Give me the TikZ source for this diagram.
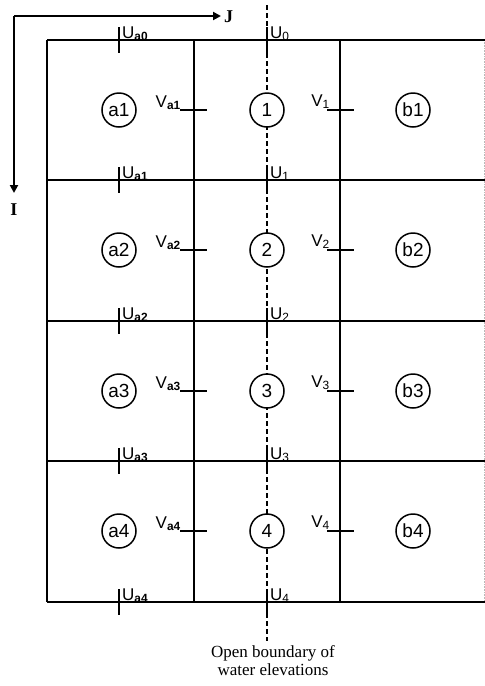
\documentclass[tikz,border=0pt]{standalone}
\usepackage{fontspec}
\setmainfont{Liberation Sans}
\newfontfamily\serifont{Liberation Serif}
\usetikzlibrary{arrows.meta}
\tikzset{
  cell/.style={circle,draw,line width=1.5pt,fill=white,minimum size=34pt,inner sep=0pt,font=\fontsize{19}{21}\selectfont},
  gridline/.style={line width=1.6pt},
  tick/.style={line width=2.6pt},
  vtick/.style={line width=2.2pt},
  lab/.style={inner sep=0pt,font=\fontsize{17}{19}\selectfont},
  axis/.style={line width=2pt,-{Triangle[length=8pt,width=8pt]}},
  axlab/.style={inner sep=0pt,font=\serifont\bfseries\fontsize{18}{20}\selectfont},
  opendash/.style={line width=1.4pt,dash pattern=on 5pt off 3pt}
}
\begin{document}
\begin{tikzpicture}[x=1pt,y=1pt]
\useasboundingbox (0,0) rectangle (485,-686);
% axes
\coordinate (o) at (14,-16);
\coordinate (jend) at (221,-16);
\coordinate (iend) at (14,-193);
\draw[axis] (o) -- (jend);
\draw[axis] (o) -- (iend);
\node[axlab,anchor=west] (J) at (224,-17) {J};
\node[axlab] (I) at (14,-210) {I};
% grid
\draw[gridline] (47,-40) -- (47,-602);
\draw[gridline] (194,-40) -- (194,-602);
\draw[gridline] (340,-40) -- (340,-602);
\draw[line width=0.6pt,gray!55,densely dotted] (484,-40) -- (484,-602);
\foreach \yl in {-40,-180,-321,-461,-602} {
  \draw[gridline] (47,\yl) -- (485,\yl);
}
% open boundary dashed line
\coordinate (dtop) at (267,-5);
\coordinate (dbot) at (267,-641);
\draw[opendash] (dtop) -- (dbot);
% U ticks and labels
\foreach \k/\yl in {0/-40,1/-180,2/-321,3/-461,4/-602} {
  \draw[tick] (119,\yl+13) -- (119,\yl-13);
  \draw[tick] (267,\yl+13) -- (267,\yl-13);
  \node[lab,anchor=base west] (ua\k) at (122,\yl+2) {U\textsubscript{\bfseries a\k}};
  \node[lab,anchor=base west] (u\k) at (270,\yl+2) {U\textsubscript{\k}};
}
% cells
\foreach \i/\yc in {1/-110,2/-250,3/-391,4/-531} {
  \node[cell] (a\i) at (119,\yc) {a\i};
  \node[cell] (c\i) at (267,\yc) {\i};
  \node[cell] (b\i) at (413,\yc) {b\i};
  \draw[vtick] (180,\yc) -- (207,\yc);
  \draw[vtick] (327,\yc) -- (354,\yc);
  \node[lab,anchor=base east] (va\i) at (181,\yc+3) {V\textsubscript{\bfseries a\i}};
  \node[lab,anchor=base east] (v\i) at (330,\yc+4) {V\textsubscript{\i}};
}
% caption
\node[inner sep=0pt,align=center,anchor=north,font=\serifont\fontsize{17}{18}\selectfont] (cap) at (273,-645) {Open boundary of\\water elevations};
\end{tikzpicture}
\end{document}
